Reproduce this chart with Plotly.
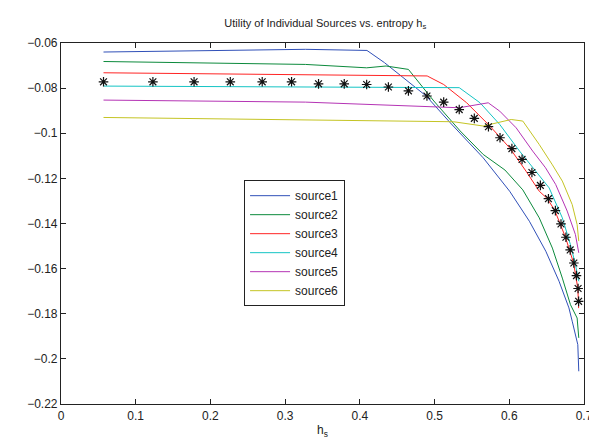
import plotly.graph_objects as go

# ---- data ----
star_h = [0.0569, 0.1230, 0.1781, 0.2266, 0.2693, 0.3086, 0.3447, 0.3791, 0.4091, 0.4382,
          0.4650, 0.4898, 0.5122, 0.5330, 0.5532, 0.5721, 0.5876, 0.6035, 0.6171, 0.6303,
          0.6416, 0.6524, 0.6617, 0.6692, 0.6758, 0.6815, 0.6864, 0.6899, 0.6921, 0.6928]
star_v = [-0.0772, -0.0772, -0.0772, -0.0772, -0.0772, -0.0772, -0.0781, -0.0781, -0.0784, -0.0795,
          -0.0812, -0.0835, -0.0862, -0.0895, -0.0934, -0.0971, -0.1020, -0.1068, -0.1116, -0.1174,
          -0.1231, -0.1290, -0.1343, -0.1402, -0.1461, -0.1517, -0.1575, -0.1631, -0.1688, -0.1745]

s1_h = [0.0569, 0.3271, 0.4095, 0.4329, 0.4888, 0.5211, 0.5651, 0.6005, 0.6269, 0.6489, 0.6666, 0.6798, 0.6842, 0.6917, 0.6930]
s1_v = [-0.0640, -0.0628, -0.0633, -0.0687, -0.0835, -0.0954, -0.1109, -0.1257, -0.1390, -0.1523, -0.1656, -0.1774, -0.1833, -0.1937, -0.2055]

s2_h = [0.0569, 0.3271, 0.4091, 0.4351, 0.4650, 0.4990, 0.5343, 0.5651, 0.5942, 0.6181, 0.6401, 0.6577, 0.6710, 0.6819, 0.6908, 0.6930]
s2_v = [-0.0682, -0.0695, -0.0710, -0.0702, -0.0717, -0.0857, -0.0990, -0.1094, -0.1163, -0.1251, -0.1375, -0.1509, -0.1642, -0.1760, -0.1819, -0.1907]

s3_h = [0.0569, 0.3271, 0.4901, 0.5122, 0.5430, 0.5740, 0.6005, 0.6224, 0.6401, 0.6510, 0.6610, 0.6752, 0.6860, 0.6918, 0.6928]
s3_v = [-0.0732, -0.0739, -0.0746, -0.0784, -0.0865, -0.0968, -0.1065, -0.1168, -0.1257, -0.1290, -0.1343, -0.1461, -0.1575, -0.1688, -0.1775]

s4_h = [0.0569, 0.3271, 0.5330, 0.5608, 0.5872, 0.6137, 0.6313, 0.6533, 0.6710, 0.6819, 0.6885, 0.6930]
s4_v = [-0.0791, -0.0795, -0.0798, -0.0865, -0.0961, -0.1079, -0.1153, -0.1242, -0.1375, -0.1494, -0.1582, -0.1656]

s5_h = [0.0569, 0.3271, 0.5330, 0.5718, 0.5872, 0.6092, 0.6313, 0.6485, 0.6621, 0.6775, 0.6885, 0.6930]
s5_v = [-0.0853, -0.0862, -0.0887, -0.0865, -0.0902, -0.0976, -0.1079, -0.1153, -0.1227, -0.1345, -0.1449, -0.1530]

s6_h = [0.0569, 0.4329, 0.5255, 0.5651, 0.6026, 0.6181, 0.6401, 0.6577, 0.6710, 0.6842, 0.6908, 0.6930]
s6_v = [-0.0930, -0.0943, -0.0949, -0.0968, -0.0939, -0.0946, -0.1050, -0.1140, -0.1212, -0.1316, -0.1405, -0.1478]

names = ["source1", "source2", "source3", "source4", "source5", "source6"]
colors = ["#3050b8", "#0c8a3c", "#ff2424", "#14c4c4", "#b534b5", "#c4c424"]

x_ticks = [0, 0.1, 0.2, 0.3, 0.4, 0.5, 0.6, 0.7]
x_tick_text = ["0", "0.1", "0.2", "0.3", "0.4", "0.5", "0.6", "0.7"]
y_ticks = [-0.22, -0.20, -0.18, -0.16, -0.14, -0.12, -0.10, -0.08, -0.06]
y_tick_text = ["\u22120.22", "\u22120.2", "\u22120.18", "\u22120.16", "\u22120.14",
               "\u22120.12", "\u22120.1", "\u22120.08", "\u22120.06"]

series = [(s1_h, s1_v), (s2_h, s2_v), (s3_h, s3_v), (s4_h, s4_v), (s5_h, s5_v), (s6_h, s6_v)]

fig = go.Figure()
for (hx, vy), nm, col in zip(series, names, colors):
    fig.add_trace(go.Scatter(x=hx, y=vy, mode="lines", name=nm,
                             line=dict(color=col, width=1)))

fig.add_trace(go.Scatter(x=star_h, y=star_v, mode="markers", showlegend=False,
                         marker=dict(symbol="asterisk-open", size=8, color="#111111",
                                     line=dict(color="#111111", width=1.2))))

font_family = "Liberation Sans, Arial, sans-serif"
fig.update_layout(
    width=597, height=439,
    margin=dict(l=53, r=15, t=35, b=43),
    paper_bgcolor="white", plot_bgcolor="white",
    font=dict(family=font_family, size=12, color="#222222"),
    title=dict(text="Utility of Individual Sources vs. entropy h<sub>s</sub>",
               x=0.5315, xanchor="center", y=0.975, yanchor="top",
               font=dict(size=11, color="#222222")),
    legend=dict(x=0.35, y=0.62, xanchor="left", yanchor="top",
                bgcolor="white", bordercolor="#222222", borderwidth=1,
                font=dict(size=12, color="#222222"), itemwidth=40),
    showlegend=True,
)
fig.update_xaxes(range=[0, 0.7], tickvals=x_ticks, ticktext=x_tick_text,
                 showline=True, linecolor="#222222", linewidth=1.2, mirror="ticks",
                 ticks="inside", ticklen=5, tickcolor="#222222",
                 showgrid=False, zeroline=False,
                 title=dict(text="h<sub>s</sub>", standoff=4, font=dict(size=12)))
fig.update_yaxes(range=[-0.22, -0.06], tickvals=y_ticks, ticktext=y_tick_text,
                 showline=True, linecolor="#222222", linewidth=1.2, mirror="ticks",
                 ticks="inside", ticklen=5, tickcolor="#222222",
                 showgrid=False, zeroline=False)

fig.write_html("out.html")
